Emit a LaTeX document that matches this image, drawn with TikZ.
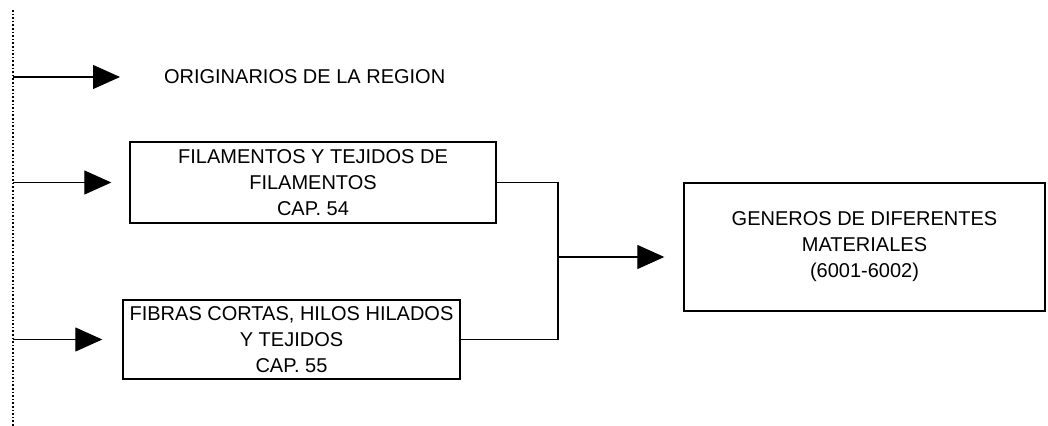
\documentclass[tikz,border=0pt]{standalone}
\usepackage{fontspec}
\setmainfont{Liberation Sans}
\usetikzlibrary{arrows.meta}

\tikzset{
  caja/.style = {draw, line width=0.7pt, rectangle, inner sep=0pt, align=center},
  flecha/.style = {line width=0.6pt, -{Triangle[length=13.5pt, width=12pt]}}
}

\begin{document}
\begin{tikzpicture}[x=0.5pt, y=-0.5pt, font=\fontsize{10}{13}\selectfont]
\useasboundingbox (0,0) rectangle (1048,426);
\coordinate (top) at (13,10);
\coordinate (bot) at (13,426);
\draw[densely dotted, line width=0.8pt] (top) -- (bot);

\node[anchor=west](orig) at (157,77){ORIGINARIOS DE LA REGION};
\node[caja, minimum width=183pt, minimum height=40.5pt](fil) at (313,182.5){FILAMENTOS Y TEJIDOS DE\\FILAMENTOS\\CAP. 54};
\node[caja, minimum width=168.5pt, minimum height=39.5pt](fib) at (291.5,339.5){FIBRAS CORTAS, HILOS HILADOS\\Y TEJIDOS\\CAP. 55};
\node[caja, minimum width=180.5pt, minimum height=64pt](gen) at (864.5,247){GENEROS DE DIFERENTES\\MATERIALES\\(6001-6002)};
\coordinate (j) at (558,257);

\draw[flecha, shorten >=18.5pt] (top |- orig.west) -- (orig.west);
\draw[flecha, shorten >=9pt] (top |- fil.west) -- (fil.west);
\draw[flecha, shorten >=10pt] (top |- fib.west) -- (fib.west);
\draw[line width=0.6pt] (fil.east) -| (j) |- (fib.east);
\draw[flecha, shorten >=9.5pt] (j) -- (gen.west |- j);
\end{tikzpicture}
\end{document}
